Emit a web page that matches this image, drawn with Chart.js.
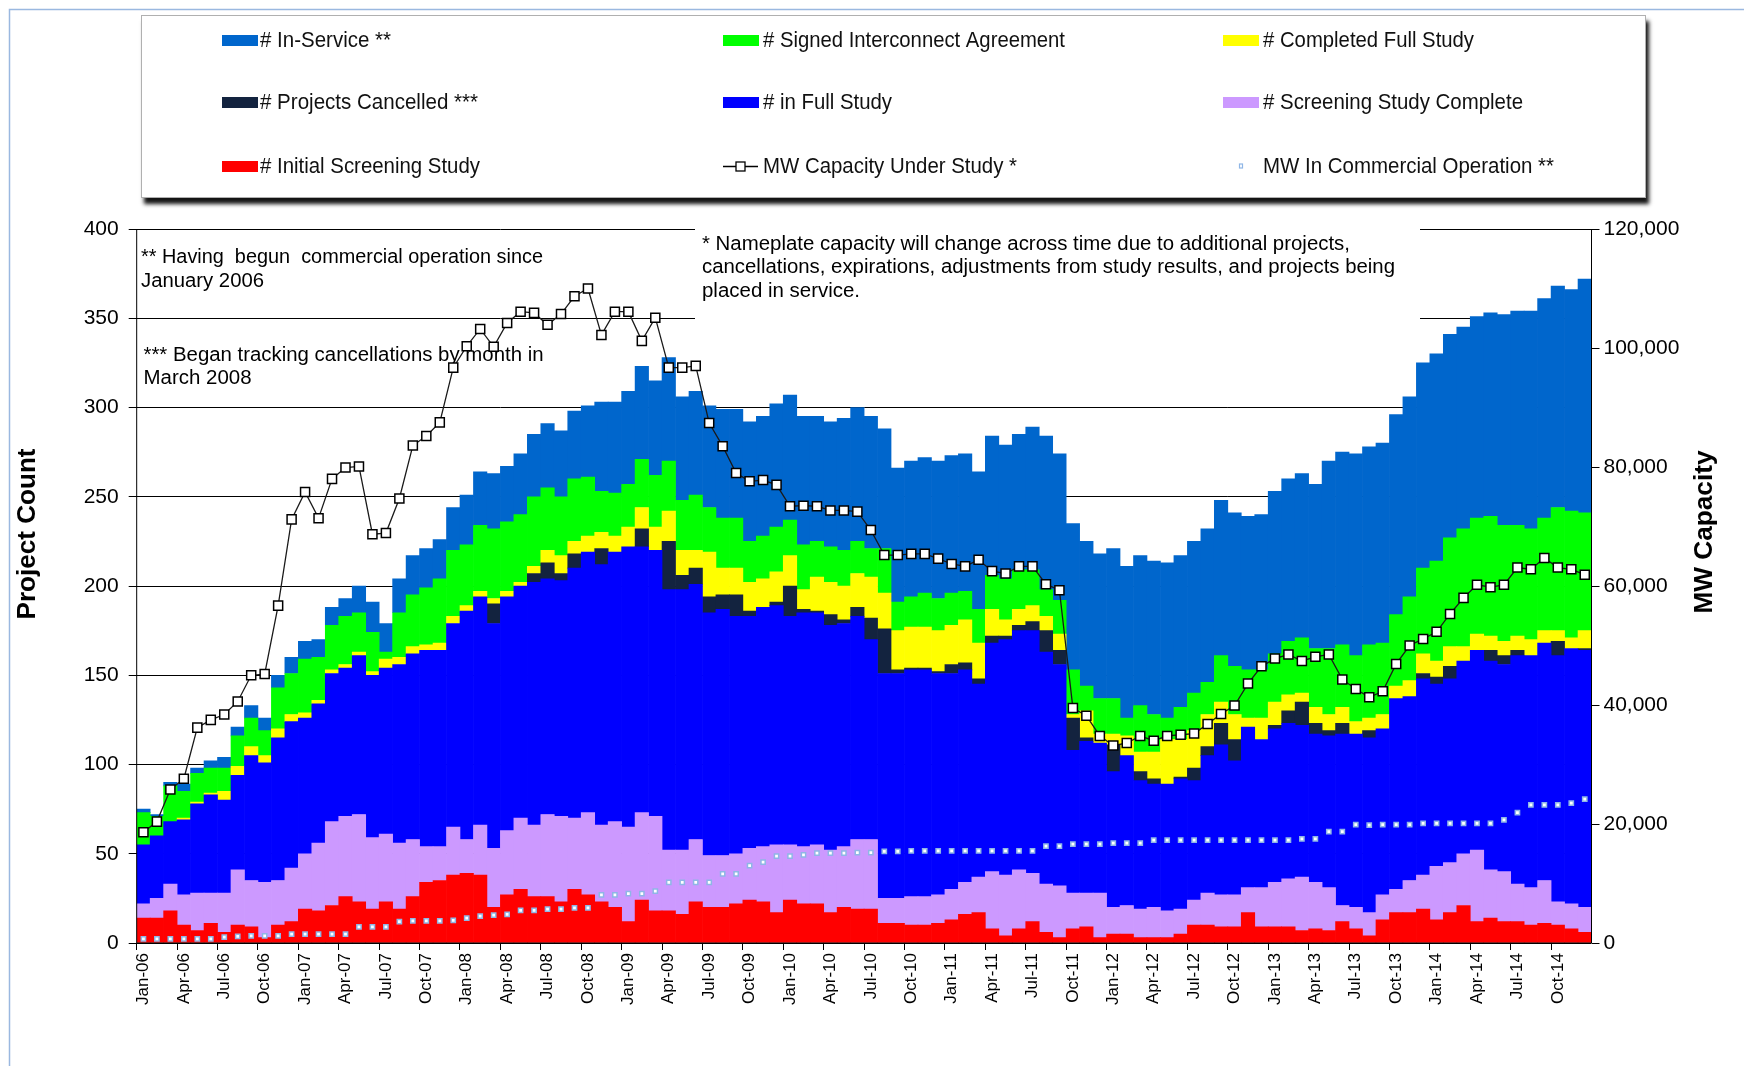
<!DOCTYPE html>
<html lang="en">
<head>
  <meta charset="UTF-8" />
  <title>Interconnection Queue – Project Count and MW Capacity</title>
  <script src="https://cdn.jsdelivr.net/npm/chart.js"></script>
  <style>
    html, body { margin: 0; padding: 0; background: #fff; }
    #wrap { position: relative; width: 1744px; height: 1066px; }
  </style>
</head>
<body>

  <div id="wrap"><canvas id="queueChart"></canvas></div>

  <script>
    // Months Jan-06 .. Dec-14
    const months = [
      "Jan-06","Feb-06","Mar-06","Apr-06","May-06","Jun-06","Jul-06","Aug-06","Sep-06","Oct-06","Nov-06","Dec-06",
      "Jan-07","Feb-07","Mar-07","Apr-07","May-07","Jun-07","Jul-07","Aug-07","Sep-07","Oct-07","Nov-07","Dec-07",
      "Jan-08","Feb-08","Mar-08","Apr-08","May-08","Jun-08","Jul-08","Aug-08","Sep-08","Oct-08","Nov-08","Dec-08",
      "Jan-09","Feb-09","Mar-09","Apr-09","May-09","Jun-09","Jul-09","Aug-09","Sep-09","Oct-09","Nov-09","Dec-09",
      "Jan-10","Feb-10","Mar-10","Apr-10","May-10","Jun-10","Jul-10","Aug-10","Sep-10","Oct-10","Nov-10","Dec-10",
      "Jan-11","Feb-11","Mar-11","Apr-11","May-11","Jun-11","Jul-11","Aug-11","Sep-11","Oct-11","Nov-11","Dec-11",
      "Jan-12","Feb-12","Mar-12","Apr-12","May-12","Jun-12","Jul-12","Aug-12","Sep-12","Oct-12","Nov-12","Dec-12",
      "Jan-13","Feb-13","Mar-13","Apr-13","May-13","Jun-13","Jul-13","Aug-13","Sep-13","Oct-13","Nov-13","Dec-13",
      "Jan-14","Feb-14","Mar-14","Apr-14","May-14","Jun-14","Jul-14","Aug-14","Sep-14","Oct-14","Nov-14","Dec-14"
    ];

    // project counts per stage (stacked bottom -> top)
    const initialScreening = [
      14,14,18,10,7,11,6,10,9,3, 10,12,19,18,21,26,23,19,23,19, 26,34,35,38,39,38,20,27,30,26,
      26,23,30,27,23,20,12,24,18,18, 16,23,20,20,22,24,23,17,24,22, 22,17,20,19,19,11,11,10,10,11,
      13,16,17,8,4,8,12,6,3,8, 9,3,5,5,3,3,3,5,10,10, 9,9,17,9,9,9,7,8,7,12,
      8,4,13,17,17,19,13,17,21,12, 14,12,12,10,11,10,8,6
    ];
    const screeningComplete = [
      8,11,15,17,21,17,22,31,26,31, 25,30,31,38,47,45,49,40,38,37, 32,20,19,27,19,28,33,36,40,40,
      46,48,40,46,43,48,53,49,53,34, 36,35,29,29,28,29,31,38,31,32, 33,35,34,39,39,14,14,16,16,16,
      17,18,20,32,34,33,27,27,29,20, 19,25,15,16,16,17,15,14,14,18, 18,18,14,22,25,27,30,26,24,9,
      12,13,14,13,18,19,30,28,29,40, 27,28,21,21,24,13,14,14
    ];
    const inFullStudy = [
      33,35,35,42,50,55,52,53,70,67, 80,82,76,78,83,83,89,91,93,100, 104,110,110,114,128,128,126,131,130,136,
      132,132,140,146,146,151,157,149,149,146, 146,143,136,138,133,130,134,134,128,131, 130,126,125,125,112,126,126,127,127,124,
      121,119,108,128,132,134,136,130,124,80, 85,84,76,84,72,69,71,73,67,77, 84,75,90,83,86,87,85,83,85,96,
      97,98,93,107,103,110,102,103,108,112, 117,116,128,130,133,138,143,144
    ];
    const cancelled = [
      0,0,0,0,0,0,0,0,0,0, 0,0,0,0,0,0,0,0,0,0, 0,0,0,0,0,0,11,0,0,5,
      9,4,8,0,9,0,0,10,0,27, 8,9,9,8,12,3,0,2,17,2, 1,6,2,5,12,25,2,1,1,1,
      5,4,3,4,2,3,5,12,8,18, 2,0,15,0,5,3,0,1,7,5, 12,12,0,0,2,7,13,6,3,6,
      0,4,0,0,0,3,4,7,0,0, 6,5,3,0,0,8,0,1
    ];
    const completedFullStudy = [
      0,0,0,1,1,1,5,5,5,4, 5,4,3,2,2,2,2,2,5,4, 4,3,4,4,3,3,3,3,2,4,
      7,10,7,9,9,9,11,12,13,17, 14,10,25,15,15,16,16,17,17,11, 19,18,19,19,23,20,22,23,23,23,
      22,24,20,15,9,9,9,8,9,2, 15,5,6,11,11,15,25,21,21,18, 12,14,5,12,13,9,5,9,9,9,
      7,7,8,7,9,11,9,11,8,9, 8,8,8,9,7,6,6,10
    ];
    const signedIA = [
      18,11,20,15,16,14,13,17,16,14, 23,23,30,24,25,27,22,22,4,25, 29,32,36,37,34,37,39,39,38,39,
      35,33,35,33,23,24,24,27,29,28, 28,31,25,28,28,23,24,25,20,25, 20,20,20,18,16,25,16,17,19,18,
      18,16,19,19,23,22,20,15,19,25, 14,20,20,10,26,21,12,18,21,18, 26,27,27,27,27,30,31,33,37,35,
      37,41,40,40,47,48,56,61,66,65, 67,65,62,62,63,69,71,66
    ];
    const inService = [
      2,1,2,4,3,4,6,5,7,7, 7,9,10,10,10,10,15,17,16,19, 22,22,22,24,28,30,31,31,34,35,
      36,37,38,40,50,51,52,52,53,58, 58,58,57,61,61,67,67,69,70,72, 70,70,74,75,74,67,75,76,76,77,
      77,77,77,78,75,76,80,86,82,82, 81,81,84,85,84,86,87,85,85,86, 87,86,86,87,91,91,92,92,105,108,
      113,111,112,112,112,115,116,114,113,113, 114,118,120,122,123,124,124,131
    ];

    // MW on the right axis
    const mwUnderStudy = [
      18600,20400,25800,27600,36200,37500,38400,40600,45000,45200,
      56700,71200,75800,71400,78000,79900,80100,68700,68900,74700,
      83600,85200,87500,96700,100300,103200,100200,104200,106100,105900,
      103900,105700,108700,110000,102200,106100,106100,101200,105100,96700,
      96700,97000,87400,83500,79000,77600,77800,77000,73400,73500,
      73400,72700,72700,72500,69400,65200,65200,65400,65400,64600,
      63700,63300,64400,62500,62100,63300,63300,60300,59300,39500,
      38200,34800,33200,33600,34800,34000,34800,35000,35200,36800,
      38500,39900,43600,46500,47800,48500,47400,48100,48500,44300,
      42700,41300,42300,46900,50000,51100,52300,55300,58000,60200,
      59800,60200,63100,62800,64700,63100,62800,61900
    ];
    const mwCommercial = [
      700,700,700,700,700,700,1000,1100,1200,1200,
      1200,1500,1500,1500,1500,1500,2700,2700,2700,3600,
      3700,3700,3700,3800,4200,4500,4700,4800,5500,5500,
      5700,5700,5900,5900,8100,8100,8300,8300,8700,10200,
      10200,10200,10200,11600,11600,13000,13600,14600,14600,14800,
      15100,15100,15100,15200,15200,15400,15400,15500,15500,15500,
      15500,15500,15500,15500,15500,15500,15500,16300,16300,16600,
      16600,16600,16800,16800,16800,17300,17300,17300,17300,17300,
      17300,17300,17300,17300,17300,17300,17500,17500,18700,18700,
      19900,19800,19900,19900,19900,20100,20100,20100,20100,20100,
      20100,20700,21900,23200,23200,23200,23500,24200
    ];

    const countTicks = [0, 50, 100, 150, 200, 250, 300, 350, 400];
    const mwTicks = [0, 20000, 40000, 60000, 80000, 100000, 120000];

    const FONT = '"Liberation Sans", Arial, sans-serif';
    Chart.defaults.font.family = FONT;
    Chart.defaults.color = "#000";

    const bar = (label, data, color) => ({
      type: "bar", label, data, backgroundColor: color, yAxisID: "y",
      borderWidth: 0, barPercentage: 1, categoryPercentage: 1,
      inflateAmount: c => (c.raw ? 0.33 : 0), order: 1
    });

    // notes inside the plot (x, y = left / middle, w = width of line)
    const notes = [
      { text: "** Having  begun  commercial operation since", x: 141, y: 257, w: 402 },
      { text: "January 2006", x: 141, y: 281, w: 123 },
      { text: "*** Began tracking cancellations by month in", x: 143.5, y: 355, w: 400 },
      { text: "March 2008", x: 143.5, y: 378, w: 108 },
      { text: "* Nameplate capacity will change across time due to additional projects,", x: 702, y: 244, w: 648 },
      { text: "cancellations, expirations, adjustments from study results, and projects being", x: 702, y: 267, w: 693 },
      { text: "placed in service.", x: 702, y: 291, w: 158 }
    ];

    // legend cells: dataset index, column, row, text width
    const legendCells = [
      { ds: 6, col: 0, row: 0, w: 131 }, { ds: 5, col: 1, row: 0, w: 302 }, { ds: 4, col: 2, row: 0, w: 211 },
      { ds: 3, col: 0, row: 1, w: 218 }, { ds: 2, col: 1, row: 1, w: 129 }, { ds: 1, col: 2, row: 1, w: 260 },
      { ds: 0, col: 0, row: 2, w: 220 }, { ds: 7, col: 1, row: 2, w: 254 }, { ds: 8, col: 2, row: 2, w: 291 }
    ];
    const legendSwatchX = [222, 723, 1223];
    const legendTextX = [260, 763, 1263];
    const legendRowY = [40, 102, 166];

    function fitText(ctx, str, x, y, w, rot) {
      const m = ctx.measureText(str).width;
      ctx.save();
      ctx.translate(x, y);
      if (rot) ctx.rotate(rot);
      ctx.scale(w / m, 1);
      ctx.fillText(str, 0, 0);
      ctx.restore();
    }

    const decorations = {
      id: "decorations",
      beforeDraw(chart) {
        const ctx = chart.ctx;
        ctx.save();
        // outer frame (left + top)
        ctx.strokeStyle = "#9ab8e0";
        ctx.lineWidth = 1.5;
        ctx.beginPath();
        ctx.moveTo(9.5, 1066); ctx.lineTo(9.5, 9.5); ctx.lineTo(1744, 9.5);
        ctx.stroke();

        // legend box with shadow
        ctx.shadowColor = "rgba(0,0,0,0.92)";
        ctx.shadowBlur = 4;
        ctx.shadowOffsetX = 3;
        ctx.shadowOffsetY = 6;
        ctx.fillStyle = "#fff";
        ctx.fillRect(141, 15, 1505, 183);
        ctx.shadowColor = "transparent";
        ctx.strokeStyle = "#b0b0b0";
        ctx.lineWidth = 1;
        ctx.strokeRect(141.5, 15.5, 1504, 182);

        ctx.font = "22px " + FONT;
        ctx.textBaseline = "middle";
        ctx.textAlign = "left";
        legendCells.forEach(c => {
          const ds = chart.data.datasets[c.ds];
          const sx = legendSwatchX[c.col], y = legendRowY[c.row];
          if (ds.type === "bar") {
            ctx.fillStyle = ds.backgroundColor;
            ctx.fillRect(sx, y - 5, 36, 11);
          } else if (ds.showLine !== false) {
            ctx.strokeStyle = "#000";
            ctx.lineWidth = 1.3;
            ctx.beginPath(); ctx.moveTo(sx, y + 0.5); ctx.lineTo(sx + 35, y + 0.5); ctx.stroke();
            ctx.fillStyle = "#fff";
            ctx.fillRect(sx + 13, y - 4, 9, 9);
            ctx.strokeRect(sx + 13, y - 4, 9, 9);
          } else {
            ctx.strokeStyle = ds.pointBorderColor;
            ctx.lineWidth = 1.2;
            ctx.strokeRect(sx + 16.5, y - 2, 3, 4);
          }
          ctx.fillStyle = "#111";
          fitText(ctx, ds.label, legendTextX[c.col], y + 1, c.w);
        });

        // axis titles
        ctx.font = "bold 26px " + FONT;
        ctx.textAlign = "center";
        ctx.fillStyle = "#000";
        fitText(ctx, "Project Count", 28, 534, 171, -Math.PI / 2);
        fitText(ctx, "MW Capacity", 1705, 532, 163, -Math.PI / 2);
        ctx.restore();
      },
      beforeDatasetsDraw(chart) {
        const ctx = chart.ctx;
        ctx.save();
        ctx.fillStyle = "#fff";
        ctx.fillRect(695, 220, 725, 106);
        ctx.fillStyle = "#000";
        ctx.font = "20px " + FONT;
        ctx.textBaseline = "middle";
        ctx.textAlign = "left";
        notes.forEach(n => fitText(ctx, n.text, n.x, n.y, n.w));
        ctx.restore();
      },
      afterDatasetsDraw(chart) {
        const { left, right, bottom } = chart.chartArea;
        const ctx = chart.ctx;
        ctx.save();
        ctx.strokeStyle = "#000";
        ctx.lineWidth = 1;
        ctx.beginPath();
        ctx.moveTo(left, chart.chartArea.top); ctx.lineTo(left, bottom);
        ctx.lineTo(right, bottom); ctx.lineTo(right, chart.chartArea.top);
        ctx.stroke();
        ctx.restore();
      }
    };

    new Chart(document.getElementById("queueChart"), {
      data: {
        labels: months,
        datasets: [
          bar("# Initial Screening Study", initialScreening, "#ff0000"),
          bar("# Screening Study Complete", screeningComplete, "#cc99ff"),
          bar("# in Full Study", inFullStudy, "#0000ff"),
          bar("# Projects Cancelled ***", cancelled, "#13233f"),
          bar("# Completed Full Study", completedFullStudy, "#ffff00"),
          bar("# Signed Interconnect Agreement", signedIA, "#00ff00"),
          bar("# In-Service **", inService, "#0066cc"),
          {
            type: "line", label: "MW Capacity Under Study *", data: mwUnderStudy, yAxisID: "y2",
            borderColor: "#1a1a1a", borderWidth: 1.3, tension: 0,
            pointStyle: "rect", pointRadius: 6.4, pointBackgroundColor: "#fff",
            pointBorderColor: "#000", pointBorderWidth: 1.5, order: 0
          },
          {
            type: "line", label: "MW In Commercial Operation **", data: mwCommercial, yAxisID: "y2",
            showLine: false, pointStyle: "rect", pointRadius: 3, pointBackgroundColor: "#fff",
            pointBorderColor: "#8fb6e6", pointBorderWidth: 1.5, order: 0
          }
        ]
      },
      options: {
        responsive: true,
        maintainAspectRatio: false,
        animation: false,
        events: [],
        layout: { padding: { top: 229, left: 0, right: 0, bottom: 0 } },
        plugins: { legend: { display: false }, tooltip: { enabled: false } },
        scales: {
          x: {
            stacked: true,
            offset: true,
            border: { display: false },
            grid: {
              offset: true, drawOnChartArea: false, tickLength: 7, lineWidth: 1,
              tickColor: c => (c.index % 3 === 0 ? "#000" : "rgba(0,0,0,0)")
            },
            ticks: {
              autoSkip: false, minRotation: 90, maxRotation: 90, padding: 3,
              font: { size: 17 }, color: "#000",
              callback(v, i) { return i % 3 === 0 ? this.getLabelForValue(v) : ""; }
            },
            afterFit: s => { s.height = 123; }
          },
          y: {
            stacked: true,
            min: countTicks[0],
            max: countTicks[countTicks.length - 1],
            afterBuildTicks: s => { s.ticks = countTicks.map(v => ({ value: v })); },
            border: { display: false },
            grid: { color: "#000", lineWidth: 1, tickLength: 8 },
            ticks: { padding: 10, font: { size: 21 }, color: "#000" },
            afterFit: s => { s.width = 136.7; }
          },
          y2: {
            position: "right",
            min: mwTicks[0],
            max: mwTicks[mwTicks.length - 1],
            afterBuildTicks: s => { s.ticks = mwTicks.map(v => ({ value: v })); },
            border: { display: false },
            grid: { drawOnChartArea: false, color: "#000", tickLength: 8 },
            ticks: {
              padding: 4, font: { size: 21 }, color: "#000",
              callback: v => v.toLocaleString("en-US")
            },
            afterFit: s => { s.width = 152.5; }
          }
        }
      },
      plugins: [decorations]
    });
  </script>
</body>
</html>
